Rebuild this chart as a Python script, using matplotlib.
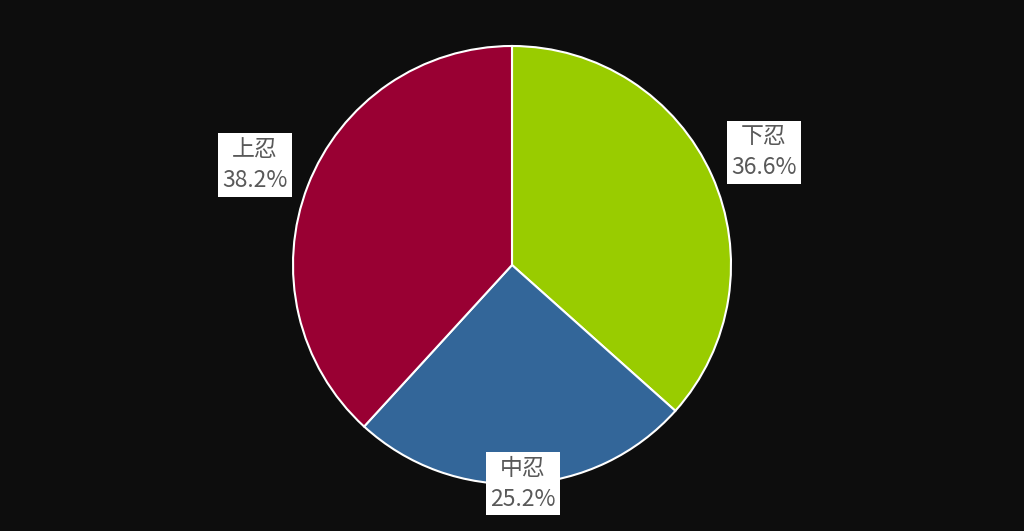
import matplotlib
matplotlib.use("Agg")
import matplotlib.pyplot as plt
import numpy as np

labels = ["下忍", "中忍", "上忍"]
values = [36.6, 25.2, 38.2]
colors = ["#99CC00", "#336699", "#990033"]
label_r = [1.26, 1.0, 1.26]

plt.rcParams['font.family'] = ['Noto Sans CJK SC', 'DejaVu Sans']
fig = plt.figure(figsize=(10.24, 5.31), dpi=100, facecolor="#0d0d0d")
W, H = 1024, 531
r = 219
cx, cy = 512, 266
ax = fig.add_axes([(cx - r) / W, (cy - r) / H, 2 * r / W, 2 * r / H])
ax.set_facecolor("#0d0d0d")
wedges, _ = ax.pie(values, colors=colors, startangle=90, counterclock=False,
                   wedgeprops=dict(edgecolor="white", linewidth=1.5), radius=1)
ax.set_xlim(-1, 1); ax.set_ylim(-1, 1)
ax.set_aspect("equal")
for w, lab, v, lr in zip(wedges, labels, values, label_r):
    a = np.deg2rad((w.theta1 + w.theta2) / 2)
    ax.text(lr * np.cos(a), lr * np.sin(a), f"{lab}\n{v:.1f}%", ha="center", va="center",
            fontsize=16.5, color="#595959", linespacing=1.45, clip_on=False,
            bbox=dict(boxstyle="square,pad=0.2", fc="white", ec="none"))
fig.savefig("out.png", dpi=100, facecolor=fig.get_facecolor())
